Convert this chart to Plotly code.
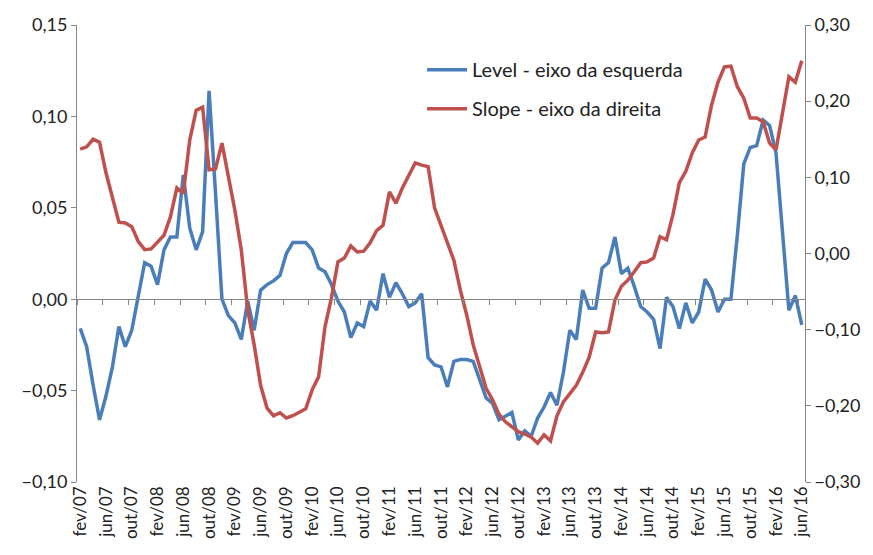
import plotly.graph_objects as go

# monthly labels fev/07 .. jun/16
mesesPt = ["jan", "fev", "mar", "abr", "mai", "jun", "jul", "ago", "set", "out", "nov", "dez"]
meses = []
for ano in range(2007, 2017):
    for m in range(12):
        if (ano == 2007 and m < 1) or (ano == 2016 and m > 5):
            continue
        meses.append(mesesPt[m] + "/" + str(ano)[2:])

level = [
    -0.016, -0.026, -0.047, -0.066, -0.053, -0.037, -0.015, -0.026, -0.017, 0.002,
    0.020, 0.018, 0.008, 0.027, 0.034, 0.034, 0.068, 0.039, 0.027, 0.037,
    0.114, 0.058, 0.000, -0.009, -0.013, -0.022, -0.001, -0.017, 0.005, 0.008,
    0.010, 0.013, 0.025, 0.031, 0.031, 0.031, 0.027, 0.017, 0.015, 0.008,
    -0.001, -0.007, -0.021, -0.013, -0.015, -0.001, -0.006, 0.014, 0.001, 0.009,
    0.003, -0.004, -0.002, 0.003, -0.032, -0.036, -0.037, -0.048, -0.034, -0.033,
    -0.033, -0.034, -0.044, -0.054, -0.057, -0.066, -0.064, -0.062, -0.077, -0.072,
    -0.075, -0.065, -0.059, -0.051, -0.058, -0.040, -0.017, -0.022, 0.005, -0.005,
    -0.005, 0.017, 0.020, 0.034, 0.014, 0.017, 0.007, -0.004, -0.007, -0.011,
    -0.027, 0.001, -0.004, -0.016, -0.002, -0.013, -0.007, 0.011, 0.005, -0.007,
    0.000, 0.000, 0.035, 0.074, 0.083, 0.084, 0.098, 0.095, 0.080, 0.036,
    -0.006, 0.002, -0.014,
]

slope = [
    0.137, 0.140, 0.150, 0.146, 0.106, 0.073, 0.041, 0.040, 0.035, 0.016,
    0.005, 0.006, 0.015, 0.024, 0.048, 0.086, 0.079, 0.149, 0.188, 0.192,
    0.110, 0.111, 0.145, 0.103, 0.057, 0.005, -0.074, -0.120, -0.173, -0.203,
    -0.213, -0.209, -0.216, -0.213, -0.209, -0.204, -0.179, -0.162, -0.096, -0.058,
    -0.011, -0.006, 0.010, 0.002, 0.003, 0.014, 0.030, 0.037, 0.081, 0.066,
    0.086, 0.103, 0.119, 0.116, 0.114, 0.060, 0.037, 0.011, -0.009, -0.048,
    -0.081, -0.120, -0.150, -0.177, -0.192, -0.211, -0.221, -0.228, -0.234, -0.237,
    -0.241, -0.249, -0.238, -0.246, -0.213, -0.195, -0.184, -0.173, -0.156, -0.136,
    -0.103, -0.104, -0.103, -0.061, -0.043, -0.035, -0.024, -0.012, -0.011, -0.006,
    0.022, 0.018, 0.051, 0.093, 0.108, 0.132, 0.149, 0.153, 0.195, 0.225,
    0.245, 0.246, 0.219, 0.204, 0.178, 0.178, 0.173, 0.145, 0.136, 0.182,
    0.232, 0.225, 0.253,
]

axisColor = "#868686"
font = "Lato"

fig = go.Figure()

# invisible copy so the zero-line axis (x2) gets drawn
fig.add_trace(go.Scatter(x=meses, y=level, xaxis="x2", mode="lines",
                         line=dict(width=0), opacity=0, showlegend=False,
                         hoverinfo="skip"))

fig.add_trace(go.Scatter(x=meses, y=level, name="Level - eixo da esquerda",
                         mode="lines", line=dict(color="#4A7EBB", width=3.5),
                         legendgroup="a"))
fig.add_trace(go.Scatter(x=meses, y=slope, name="Slope - eixo da direita",
                         mode="lines", line=dict(color="#C0504D", width=3.5),
                         yaxis="y2", legendgroup="b"))

# page body has an 8px margin, so the figure is shifted by 8px
fig.update_layout(
    width=865, height=547,
    margin=dict(l=69, r=68, t=17, b=73),
    paper_bgcolor="white", plot_bgcolor="white",
    separators=",.",
    font=dict(family=font, size=18, color="#222222"),
    showlegend=True,
    legend=dict(x=0.474, y=0.945, xanchor="left", yanchor="top",
                bgcolor="rgba(0,0,0,0)", font=dict(size=20),
                itemwidth=40, tracegroupgap=10, traceorder="grouped"),
    xaxis=dict(type="category", range=[-0.5, len(meses) - 0.5],
               tickmode="array", tickvals=meses[::4], ticktext=meses[::4],
               tickangle=-90, tickfont=dict(size=17), showgrid=False,
               showline=False, ticks="", zeroline=False, automargin=False),
    xaxis2=dict(type="category", overlaying="x", anchor="free", position=0.4,
                range=[-0.5, len(meses) - 0.5],
                tickmode="array", tickvals=meses[::4], tickson="boundaries",
                showticklabels=False, ticks="outside", ticklen=5,
                tickcolor=axisColor, showline=True, linecolor=axisColor,
                linewidth=1, showgrid=False, automargin=False),
    yaxis=dict(range=[-0.10, 0.15], dtick=0.05, tickformat=".2f",
               showgrid=False, zeroline=False, showline=True,
               linecolor=axisColor, ticks="outside", ticklen=5,
               tickcolor=axisColor, automargin=False),
    yaxis2=dict(range=[-0.30, 0.30], dtick=0.10, tickformat=".2f",
                overlaying="y", side="right", showgrid=False, zeroline=False,
                showline=True, linecolor=axisColor, ticks="outside",
                ticklen=5, tickcolor=axisColor, automargin=False),
)

fig.write_html("out.html")
